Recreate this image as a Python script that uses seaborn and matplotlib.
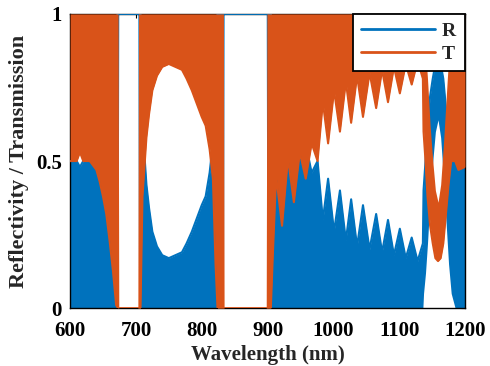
import matplotlib
matplotlib.use("Agg")
import matplotlib.pyplot as plt
import seaborn as sns

# ---- data (envelopes of the rapidly oscillating spectra) ----
wavelength = [600, 610, 615, 620, 630, 640, 645, 650, 655, 660, 665, 670, 673,
              674, 703, 704, 707, 710, 713, 716, 720, 725, 732, 740, 750, 760, 770,
              777, 785, 795, 800, 806, 812, 817, 821, 824, 833,
              834, 898, 899, 905, 908, 913, 922, 931, 940, 949, 958, 967,
              976, 984, 992, 1001, 1010, 1019, 1027, 1036, 1045, 1055, 1065,
              1074, 1083, 1092, 1101, 1110, 1119, 1128, 1136,
              1137, 1140, 1143, 1147, 1151, 1155, 1159, 1163, 1167, 1171, 1175,
              1179, 1185, 1190, 1200]
r_low = [0, 0, 0, 0, 0, 0, 0, 0, 0, 0, 0, 0, 0,
         1, 1, 0, 0, 0, 0, 0, 0, 0, 0, 0, 0, 0, 0,
         0, 0, 0, 0, 0, 0, 0, 0, 0, 0,
         1, 1, 0, 0, 0, 0, 0, 0, 0, 0, 0, 0,
         0, 0, 0, 0, 0, 0, 0, 0, 0, 0, 0,
         0, 0, 0, 0, 0, 0, 0, 0,
         0.05, 0.12, 0.22, 0.38, 0.50, 0.60, 0.64, 0.58, 0.45, 0.30, 0.15,
         0.05, 0, 0, 0]
r_high = [0.50, 0.50, 0.48, 0.50, 0.50, 0.53, 0.57, 0.62, 0.68, 0.77, 0.87, 0.99, 1.0,
          1, 1, 1, 1, 0.62, 0.52, 0.42, 0.34, 0.26, 0.21, 0.18, 0.17, 0.18, 0.19,
          0.22, 0.26, 0.32, 0.35, 0.38, 0.46, 0.56, 0.85, 1.0, 1.0,
          1, 1, 1, 1, 0.82, 0.55, 0.72, 0.50, 0.64, 0.49, 0.56, 0.46,
          0.50, 0.30, 0.44, 0.26, 0.40, 0.23, 0.37, 0.21, 0.35, 0.20, 0.32,
          0.19, 0.30, 0.18, 0.27, 0.17, 0.24, 0.16, 0.22,
          0.40, 0.50, 0.62, 0.72, 0.78, 0.83, 0.84, 0.83, 0.78, 0.68, 0.58,
          0.50, 0.50, 0.53, 0.52]
t_low = [0.50, 0.50, 0.53, 0.50, 0.50, 0.47, 0.43, 0.38, 0.32, 0.23, 0.13, 0.01, 0.0,
         0, 0, 0, 0, 0.38, 0.48, 0.58, 0.66, 0.74, 0.79, 0.82, 0.83, 0.82, 0.81,
         0.78, 0.74, 0.68, 0.65, 0.62, 0.54, 0.44, 0.15, 0.0, 0.0,
         0, 0, 0, 0, 0.18, 0.45, 0.28, 0.51, 0.36, 0.53, 0.44, 0.56,
         0.50, 0.70, 0.56, 0.74, 0.60, 0.77, 0.63, 0.79, 0.65, 0.80, 0.68,
         0.81, 0.70, 0.82, 0.73, 0.83, 0.76, 0.84, 0.78,
         0.60, 0.50, 0.38, 0.28, 0.22, 0.17, 0.16, 0.17, 0.22, 0.32, 0.42,
         0.50, 0.50, 0.47, 0.48]
t_high = [1, 1, 1, 1, 1, 1, 1, 1, 1, 1, 1, 1, 1,
          0, 0, 1, 1, 1, 1, 1, 1, 1, 1, 1, 1, 1, 1,
          1, 1, 1, 1, 1, 1, 1, 1, 1, 1,
          0, 0, 1, 1, 1, 1, 1, 1, 1, 1, 1, 1,
          1, 1, 1, 1, 1, 1, 1, 1, 1, 1, 1,
          1, 1, 1, 1, 1, 1, 1, 1,
          0.95, 0.88, 0.78, 0.62, 0.50, 0.40, 0.36, 0.42, 0.55, 0.70, 0.85,
          0.95, 1.0, 1.0, 1.0]

x_ticks = [600, 700, 800, 900, 1000, 1100, 1200]
y_ticks = [0, 0.5, 1]
y_tick_labels = ["0", "0.5", "1"]

BLUE = "#0072BD"
ORANGE = "#D95319"

sns.set_theme(style="white")
plt.rcParams["font.family"] = ["Liberation Serif", "DejaVu Serif"]
plt.rcParams["font.weight"] = "bold"

fig = plt.figure(figsize=(4.9, 3.66), dpi=100)
ax = fig.add_axes([0.143, 0.158, 0.806, 0.804])

ax.fill_between(wavelength, r_low, r_high, color=BLUE, lw=0, zorder=1.0)
sns.lineplot(x=wavelength, y=r_high, ax=ax, color=BLUE, lw=1.5, sort=False,
             estimator=None, label="R", zorder=1.2)
ax.fill_between(wavelength, t_low, t_high, color=ORANGE, lw=0, zorder=1.5)
sns.lineplot(x=wavelength, y=t_low, ax=ax, color=ORANGE, lw=1.5, sort=False,
             estimator=None, label="T", zorder=1.7)

ax.set_xlim(600, 1200)
ax.set_ylim(0, 1)
ax.set_xticks(x_ticks)
ax.set_xticklabels([str(v) for v in x_ticks])
ax.set_yticks(y_ticks)
ax.set_yticklabels(y_tick_labels)
ax.tick_params(direction="in", length=3, width=0.8, labelsize=15, colors="black",
               top=True, right=True)
ax.tick_params(axis="x", pad=9)
ax.tick_params(axis="y", pad=6)
for lab in ax.get_xticklabels() + ax.get_yticklabels():
    lab.set_fontweight("bold")
for s in ax.spines.values():
    s.set_color("black")
    s.set_linewidth(1.0)
    s.set_visible(True)
    s.set_zorder(1.1)

ax.set_xlabel("Wavelength (nm)", fontsize=15, fontweight="bold", labelpad=3)
ax.set_ylabel("Reflectivity / Transmission", fontsize=16, fontweight="bold", labelpad=5)

leg = ax.legend(loc="upper right", borderaxespad=0, fancybox=False, framealpha=1,
                edgecolor="black", handlelength=3.8, handletextpad=0.35,
                labelspacing=0.25, borderpad=0.45,
                prop={"family": "Liberation Serif", "weight": "bold", "size": 14})
leg.get_frame().set_linewidth(1.3)
leg.set_zorder(5)
for h in leg.get_lines():
    h.set_linewidth(2)

fig.savefig("out.png", dpi=100)
